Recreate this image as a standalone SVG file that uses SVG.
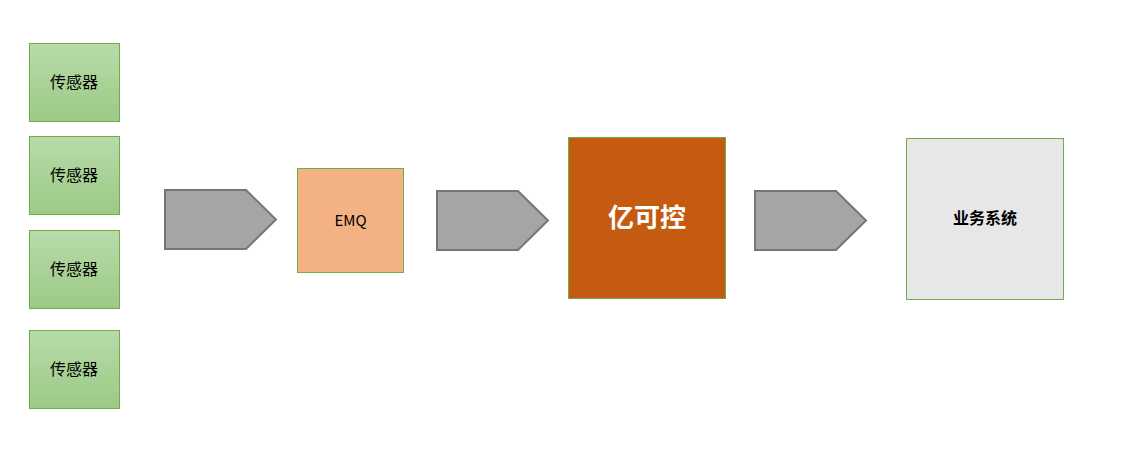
<svg xmlns="http://www.w3.org/2000/svg" width="1128" height="470" viewBox="0 0 1128 470">
<style>
.s{fill:url(#g);stroke:#70ad47;stroke-width:1}
.t{font-family:"Noto Sans CJK SC","Noto Sans",sans-serif;font-size:16px;fill:#000;text-anchor:middle;dominant-baseline:central}
.a{fill:#a5a5a5;stroke:#767676;stroke-width:2}
</style>
<defs><linearGradient id="g" x1="0" y1="0" x2="0" y2="1"><stop offset="0" stop-color="#b8dba9"/><stop offset="1" stop-color="#9cca86"/></linearGradient></defs>
<rect width="1128" height="470" fill="#fff"/>
<g id="s1"><rect class="s" x="29.5" y="43.5" width="90" height="78"/><text class="t" x="74" y="80.5">传感器</text></g>
<g id="s2"><rect class="s" x="29.5" y="136.5" width="90" height="78"/><text class="t" x="74" y="173.5">传感器</text></g>
<g id="s3"><rect class="s" x="29.5" y="230.5" width="90" height="78"/><text class="t" x="74" y="267.5">传感器</text></g>
<g id="s4"><rect class="s" x="29.5" y="330.5" width="90" height="78"/><text class="t" x="74" y="367.5">传感器</text></g>
<g id="connectors">
<polygon class="a" points="165,190 246,190 276,219.5 246,249 165,249"/>
<polygon class="a" points="437,191 518,191 548,220.5 518,250 437,250"/>
<polygon class="a" points="755,191 836,191 866,220.5 836,250 755,250"/>
</g>
<g id="emq"><rect x="297.5" y="168.5" width="106" height="104" fill="#f4b183" stroke="#70ad47"/><text class="t" x="350.5" y="219" style="font-size:15px">EMQ</text></g>
<g id="ykk"><rect x="568.5" y="137.5" width="157" height="161" fill="#c55a11" stroke="#70ad47"/><text class="t" x="647" y="215" style="font-size:26px;font-weight:bold;fill:#fff">亿可控</text></g>
<g id="biz"><rect x="906.5" y="138.5" width="157" height="161" fill="#e7e7e7" stroke="#70ad47"/><text class="t" x="985" y="217" style="font-weight:bold">业务系统</text></g>
</svg>
